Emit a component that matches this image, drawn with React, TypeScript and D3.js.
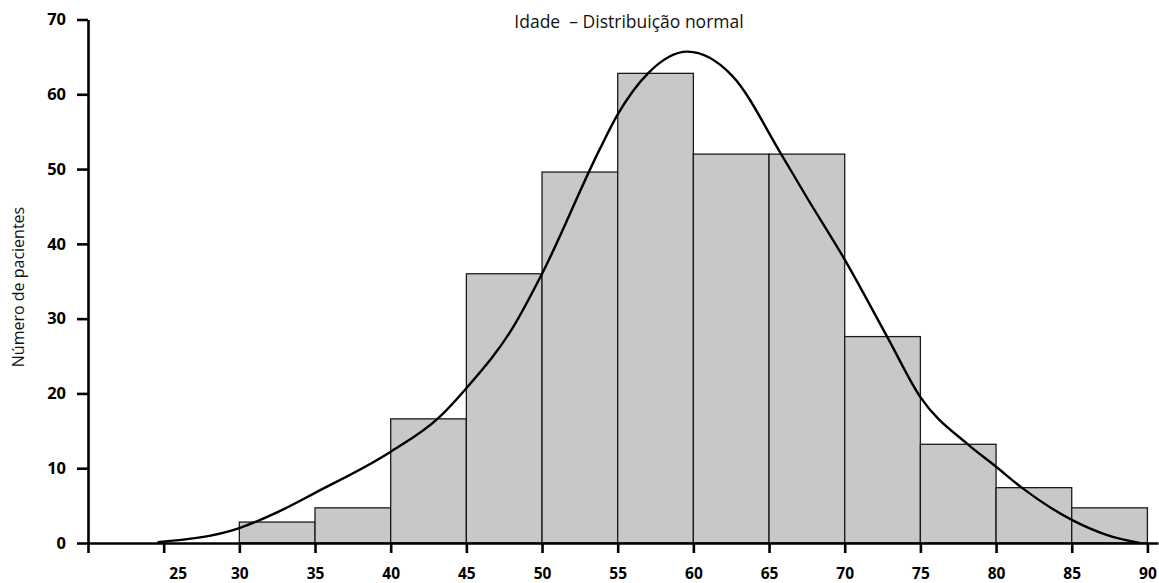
import { useEffect, useRef } from 'react';
import * as d3 from 'd3';

// Histogram bins (age ranges, 5 years wide)
const binStarts = [30, 35, 40, 45, 50, 55, 60, 65, 70, 75, 80, 85];
const binCounts = [2.8, 4.7, 16.6, 36, 49.6, 62.8, 52, 52, 27.6, 13.2, 7.4, 4.7];

// Fitted curve (age, patients)
const curveAges = [24.6, 30, 32.7, 35, 40, 43.2, 45, 48.1, 50, 53.8, 55, 57, 59.6, 62.6, 65.8, 67.5, 70, 72.8, 75, 78.1, 80, 81.7, 85, 87.3, 89.5];
const curveValues = [0.1, 2.0, 4.3, 6.7, 12.2, 16.8, 20.7, 28.9, 36, 52.6, 57.3, 62.8, 65.7, 62.4, 52, 46.2, 37.9, 27.6, 19.5, 13.25, 10.2, 7.4, 3.1, 1.1, 0];

const xTicks = [20, 25, 30, 35, 40, 45, 50, 55, 60, 65, 70, 75, 80, 85, 90];
const yTicks = [0, 10, 20, 30, 40, 50, 60, 70];

const title = 'Idade  – Distribuição normal';
const yLabel = 'Número de pacientes';

const App = () => {
  const svgRef = useRef<SVGSVGElement | null>(null);

  useEffect(() => {
    const svg = d3.select(svgRef.current);
    svg.selectAll('*').remove();

    const width = 1159;
    const height = 583;

    const x = d3.scaleLinear().domain([20, 90.7]).range([88, 1158]);
    const y = d3.scaleLinear().domain([0, 70]).range([543, 19.5]);
    const binWidth = 5;

    svg.attr('width', width).attr('height', height);

    // bars
    svg.append('g')
      .selectAll('rect')
      .data(binStarts.map((s, i) => ({ s, c: binCounts[i] })))
      .enter()
      .append('rect')
      .attr('x', d => x(d.s))
      .attr('y', d => y(d.c))
      .attr('width', d => x(d.s + binWidth) - x(d.s))
      .attr('height', d => y(0) - y(d.c))
      .attr('fill', '#c7c8ca')
      .attr('stroke', '#1a1a1a')
      .attr('stroke-width', 1.3);

    // curve
    const line = d3.line<number>()
      .x((_, i) => x(curveAges[i]))
      .y(d => y(d))
      .curve(d3.curveMonotoneX);

    svg.append('path')
      .datum(curveValues)
      .attr('d', line)
      .attr('fill', 'none')
      .attr('stroke', '#000')
      .attr('stroke-width', 2.4);

    // x axis
    const gx = svg.append('g')
      .attr('transform', `translate(0,${y(0)})`)
      .call(
        d3.axisBottom(x)
          .tickValues(xTicks)
          .tickSize(10)
          .tickSizeOuter(0)
          .tickPadding(15)
          .tickFormat(d => (d === 20 ? '' : String(d)))
      );
    gx.select('.domain').attr('stroke-width', 2.6);
    gx.selectAll('.tick line').attr('stroke-width', 2.6);
    gx.selectAll('.tick text')
      .attr('font-family', '"Open Sans", sans-serif')
      .attr('font-weight', 'bold')
      .attr('font-size', 15.5)
      .attr('fill', '#000')
      .attr('dx', d => (d === 25 ? 14 : 0));

    // y axis
    const gy = svg.append('g')
      .attr('transform', `translate(${x(20)},0)`)
      .call(
        d3.axisLeft(y)
          .tickValues(yTicks)
          .tickSize(11)
          .tickSizeOuter(0)
          .tickPadding(11)
      );
    gy.select('.domain').attr('stroke-width', 2.6);
    gy.selectAll('.tick line').attr('stroke-width', 2.6);
    gy.selectAll('.tick text')
      .attr('font-family', '"Open Sans", sans-serif')
      .attr('font-weight', 'bold')
      .attr('font-size', 16.5)
      .attr('fill', '#000');

    // title
    svg.append('text')
      .attr('x', 629)
      .attr('y', 28)
      .attr('text-anchor', 'middle')
      .attr('font-family', '"Open Sans", sans-serif')
      .attr('font-size', 17.5)
      .attr('fill', '#111')
      .style('white-space', 'pre')
      .text(title);

    // y label
    svg.append('text')
      .attr('transform', `translate(24,287) rotate(-90)`)
      .attr('text-anchor', 'middle')
      .attr('font-family', '"Open Sans", sans-serif')
      .attr('font-size', 16)
      .attr('fill', '#111')
      .text(yLabel);
  }, []);

  return <svg ref={svgRef} style={{ position: 'absolute', left: 0, top: 0 }}></svg>;
};

export default App;
